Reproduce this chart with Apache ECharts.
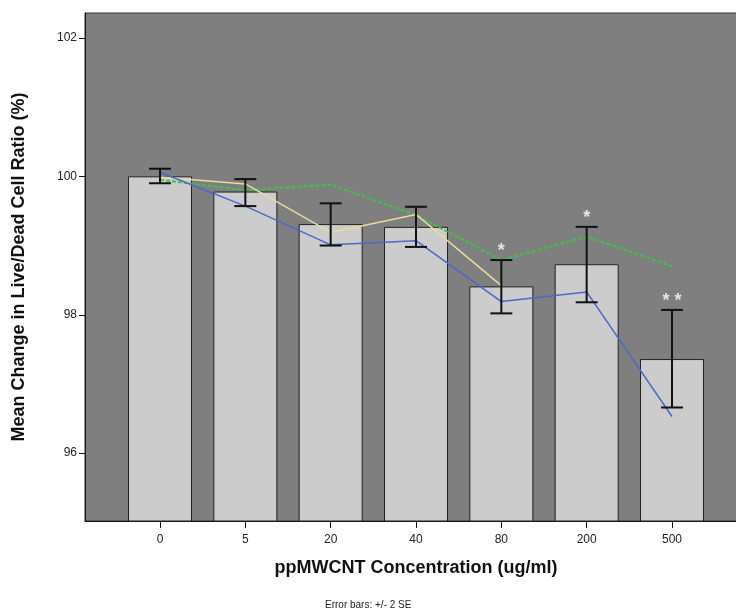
<!DOCTYPE html>
<html>
<head>
<meta charset="utf-8">
<script src="https://cdn.jsdelivr.net/npm/echarts@6/dist/echarts.min.js"></script>
<style>
  html, body { margin: 0; padding: 0; background: #fff; }
  #chart { width: 736px; height: 608px; }
</style>
</head>
<body>
<div id="chart"></div>
<script>
var categories = ['0', '5', '20', '40', '80', '200', '500'];
var barMeans = [100.0, 99.78, 99.31, 99.27, 98.41, 98.73, 97.36];
var errLow = [99.90, 99.57, 99.00, 98.98, 98.02, 98.18, 96.66];
var errHigh = [100.11, 99.96, 99.61, 99.56, 98.79, 99.27, 98.07];
var blueLine = [100.06, 99.57, 99.01, 99.07, 98.19, 98.33, 96.53];
var yellowLine = [99.99, 99.89, 99.19, 99.45, 98.42];
var greenLine = [99.95, 99.80, 99.88, 99.44, 98.79, 99.13, 98.70];
var starLabels = ['', '', '', '', '*', '*', '* *'];
var yTicks = [96, 98, 100, 102];

var font = 'Liberation Sans, Arial, sans-serif';
var idx = categories.map(function (c, i) { return i; });

function pairs(values) {
    return values.map(function (v, i) { return [i, v]; });
}

var errData = idx.map(function (i) { return [i, errLow[i], errHigh[i]]; });
var starData = [];
idx.forEach(function (i) {
    if (starLabels[i]) starData.push({ value: [i, errHigh[i]], label: { formatter: starLabels[i] } });
});

var option = {
    animation: false,
    backgroundColor: '#ffffff',
    title: {
        text: 'Error bars: +/- 2 SE',
        left: 320,
        top: 595,
        textStyle: { fontFamily: font, fontSize: 10, fontWeight: 'normal', color: '#222' }
    },
    grid: {
        left: 85,
        top: 13,
        width: 662,
        height: 508,
        outerBoundsMode: 'none',
        containLabel: false,
        show: true,
        backgroundColor: '#7f7f7f',
        borderColor: '#333',
        borderWidth: 1
    },
    xAxis: {
        type: 'value',
        min: -0.879,
        max: 6.879,
        name: 'ppMWCNT Concentration (ug/ml)',
        nameLocation: 'middle',
        nameGap: 38,
        nameTextStyle: { fontFamily: font, fontSize: 18, fontWeight: 'bold', color: '#111' },
        axisLine: { onZero: false, lineStyle: { color: '#111', width: 1 } },
        axisTick: { show: true, customValues: idx, length: 7, lineStyle: { color: '#111' } },
        axisLabel: {
            customValues: idx,
            formatter: function (v) { return categories[Math.round(v)]; },
            fontFamily: font, fontSize: 12, color: '#222', margin: 13
        },
        splitLine: { show: false }
    },
    yAxis: {
        type: 'value',
        min: 95.02,
        max: 102.36,
        name: 'Mean Change in Live/Dead Cell Ratio (%)',
        nameLocation: 'middle',
        nameGap: 57,
        nameTextStyle: { fontFamily: font, fontSize: 18, fontWeight: 'bold', color: '#111' },
        axisLine: { show: true, onZero: false, lineStyle: { color: '#111', width: 1 } },
        axisTick: { show: true, customValues: yTicks, length: 6, lineStyle: { color: '#111' } },
        axisLabel: { customValues: yTicks, fontFamily: font, fontSize: 12, color: '#222', margin: 8 },
        splitLine: { show: false }
    },
    series: [
        {
            type: 'bar',
            data: pairs(barMeans),
            barWidth: 64,
            itemStyle: { color: '#cccccc', borderColor: '#222', borderWidth: 1 }
        },
        {
            type: 'line',
            data: pairs(greenLine),
            symbol: 'none',
            lineStyle: { color: '#3fc24a', width: 2, type: [4, 2] },
            z: 3
        },
        {
            type: 'line',
            data: pairs(yellowLine),
            symbol: 'none',
            lineStyle: { color: '#e6dba0', width: 1.5 },
            z: 3
        },
        {
            type: 'line',
            data: pairs(blueLine),
            symbol: 'none',
            lineStyle: { color: '#4a68c8', width: 1.5 },
            z: 3
        },
        {
            type: 'custom',
            data: errData,
            z: 4,
            renderItem: function (params, api) {
                var x = api.value(0);
                var lo = api.coord([x, api.value(1)]);
                var hi = api.coord([x, api.value(2)]);
                var hw = 11;
                var style = { stroke: '#111', lineWidth: 2 };
                return {
                    type: 'group',
                    children: [
                        { type: 'line', shape: { x1: hi[0], y1: hi[1], x2: lo[0], y2: lo[1] }, style: style },
                        { type: 'line', shape: { x1: hi[0] - hw, y1: hi[1], x2: hi[0] + hw, y2: hi[1] }, style: style },
                        { type: 'line', shape: { x1: lo[0] - hw, y1: lo[1], x2: lo[0] + hw, y2: lo[1] }, style: style }
                    ]
                };
            }
        },
        {
            type: 'scatter',
            data: starData,
            symbolSize: 0,
            z: 5,
            label: {
                show: true,
                position: 'top',
                distance: 0,
                fontFamily: font,
                fontSize: 18,
                fontWeight: 'bold',
                color: '#ffffff'
            }
        }
    ]
};

var myChart = echarts.init(document.getElementById('chart'));
myChart.setOption(option, true);
</script>
</body>
</html>
